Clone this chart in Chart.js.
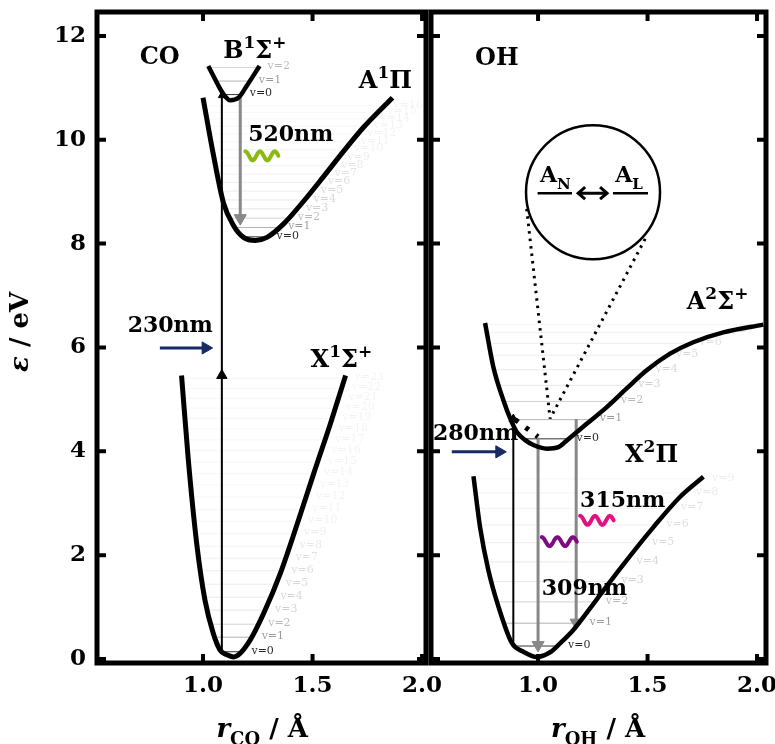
<!DOCTYPE html>
<html><head><meta charset="utf-8">
<script src="https://cdn.jsdelivr.net/npm/chart.js@4.4.1/dist/chart.umd.min.js"></script>
<style>
html,body{margin:0;padding:0;background:#fff;}
#wrap{position:relative;width:775px;height:744px;overflow:hidden;}
canvas{position:absolute;left:0;top:0;}
</style></head><body>
<div id="wrap"><canvas id="c1" width="775" height="744"></canvas><canvas id="c2" width="775" height="744"></canvas></div>
<script>
// ---------------- DATA ----------------
const yTicks = [0, 2, 4, 6, 8, 10, 12];
const xTicks = [1.0, 1.5, 2.0];

// CO potential curves (r in Å, energy in eV)
const coX_r = [0.902,0.933,0.971,1.009,1.047,1.078,1.109,1.139,1.170,1.216,1.277,1.353,1.430,1.506,1.583,1.651];
const coX_e = [5.46,3.83,2.23,1.13,0.49,0.17,0.08,0.04,0.11,0.37,0.88,1.65,2.60,3.58,4.55,5.46];
const coA_r = [1.000,1.047,1.093,1.139,1.185,1.239,1.292,1.368,1.460,1.552,1.644,1.735,1.865];
const coA_e = [10.81,9.72,8.79,8.35,8.12,8.06,8.12,8.38,8.82,9.30,9.79,10.25,10.81];
const coB_r = [1.024,1.063,1.093,1.124,1.162,1.200,1.258];
const coB_e = [11.42,11.10,10.88,10.76,10.81,11.04,11.42];
const coX_levels = [0.14,0.42,0.67,0.94,1.19,1.44,1.70,1.94,2.17,2.42,2.65,2.88,3.12,3.35,3.57,3.79,4.01,4.22,4.43,4.63,4.83,5.02,5.21,5.40];
const coA_levels = [8.13,8.31,8.49,8.67,8.84,9.01,9.18,9.34,9.50,9.65,9.81,9.96,10.11,10.26,10.40,10.53,10.65];
const coB_levels = [10.87,11.13,11.39];

// OH potential curves
const ohA_r = [0.758,0.796,0.842,0.880,0.903,0.940,0.979,1.040,1.093,1.131,1.222,1.314,1.405,1.496,1.603,1.709,1.846,2.029];
const ohA_e = [6.47,5.62,4.98,4.56,4.37,4.22,4.12,4.05,4.08,4.21,4.53,4.85,5.21,5.56,5.88,6.10,6.29,6.44];
const ohX_r = [0.705,0.735,0.773,0.819,0.880,0.933,0.994,1.055,1.100,1.161,1.270,1.382,1.527,1.648,1.755];
const ohX_e = [3.52,2.54,1.71,1.01,0.31,0.14,0.04,0.13,0.30,0.56,1.16,1.78,2.54,3.12,3.51];
const ohA_levels = [4.24,4.61,4.96,5.27,5.57,5.85,6.08,6.29,6.44];
const ohX_levels = [0.25,0.69,1.10,1.49,1.87,2.24,2.58,2.90,3.20,3.47];

// transitions (r, energies)
const coExc_r = 1.086, coExc_e = [0.10, 5.46, 10.85];
const coEm_r = 1.170, coEm_e = [10.82, 8.49];
const coPump_r = [0.803, 1.012], coPump_e = 5.99;
const ohExc_r = 0.887, ohExc_e = [0.24, 4.62];
const ohEm309_r = 1.0, ohEm309_e = [4.26, 0.27];
const ohEm315_r = 1.174, ohEm315_e = [4.62, 0.70];
const ohPump_r = [0.606, 0.823], ohPump_e = 3.99;
const ohRelax_r = [0.895, 1.0], ohRelax_e = [4.61, 4.28];
const ohZoomL_r = [0.948, 1.055], ohZoomL_e = [8.67, 4.63];
const ohZoomR_r = [1.489, 1.055], ohZoomR_e = [8.09, 4.63];
const ohInset_r = [0.998, 1.155, 1.342, 1.502], ohInset_e = 8.97;

// ---------------- HELPERS ----------------
const FONT = '"DejaVu Serif", "Liberation Serif", serif';
const pts = (r, e) => r.map((x, i) => ({x, y: e[i]}));

function wallsAt(r, e, E) {
  let im = 0; for (let i = 1; i < e.length; i++) if (e[i] < e[im]) im = i;
  let xl = r[0], xr = r[r.length - 1];
  for (let i = im; i > 0; i--) { if (e[i-1] >= E && e[i] <= E) { xl = r[i] + (E - e[i]) * (r[i-1] - r[i]) / (e[i-1] - e[i]); break; } }
  for (let i = im; i < r.length - 1; i++) { if (e[i+1] >= E && e[i] <= E) { xr = r[i] + (E - e[i]) * (r[i+1] - r[i]) / (e[i+1] - e[i]); break; } }
  return [xl, xr];
}
function lineAlpha(i){ return i===0?0.8: i===1?0.3: i===2?0.18: Math.max(0.04, 0.13-0.01*i); }
function labAlpha(i){ return i===0?0.85: i===1?0.4: i===2?0.28: Math.max(0.05, 0.24-0.018*i); }

function drawRich(ctx, x, y, parts, size, align) {
  let w = 0;
  const items = parts.map(p => {
    const k = p[1] || '';
    const s = (k === 'sup' || k === 'sub') ? Math.round(size * 0.7) : size;
    const font = (k.indexOf('it') >= 0 ? 'italic ' : '') + 'bold ' + s + 'px ' + FONT;
    ctx.font = font;
    const wd = ctx.measureText(p[0]).width;
    const dy = k === 'sup' ? -size * 0.42 : k === 'sub' ? size * 0.3 : 0;
    w += wd;
    return {t: p[0], font, wd, dy};
  });
  let cx = align === 'center' ? x - w / 2 : align === 'right' ? x - w : x;
  ctx.textAlign = 'left'; ctx.textBaseline = 'alphabetic';
  items.forEach(it => { ctx.font = it.font; ctx.fillText(it.t, cx, y + it.dy); cx += it.wd; });
}
function wiggle(ctx, x0, x1, yc, amp, color) {
  ctx.save(); ctx.strokeStyle = color; ctx.lineWidth = 4; ctx.lineCap = 'round'; ctx.lineJoin = 'round';
  ctx.beginPath();
  const n = 60;
  for (let i = 0; i <= n; i++) {
    const t = i / n, x = x0 + (x1 - x0) * t;
    const y = yc - amp * Math.sin(Math.PI * 0.5 + t * 2.25 * 2 * Math.PI);
    i ? ctx.lineTo(x, y) : ctx.moveTo(x, y);
  }
  ctx.stroke(); ctx.restore();
}

function levelDatasets(r, e, levels, w) {
  return levels.map((E, i) => {
    const [xl, xr] = wallsAt(r, e, E);
    return {data: [{x: xl, y: E}, {x: xr, y: E}], borderColor: 'rgba(0,0,0,' + lineAlpha(i) + ')',
      borderWidth: w || 1, pointRadius: 0, showLine: true, order: 20};
  });
}
function curveDs(r, e, w) {
  return {data: pts(r, e), borderColor: '#000', borderWidth: w, pointRadius: 0, showLine: true,
    cubicInterpolationMode: 'monotone', order: 1, borderCapStyle: 'butt'};
}
function arrowDs(data, color, w, radii, rot, extra) {
  return Object.assign({data, borderColor: color, backgroundColor: color, borderWidth: w, showLine: true,
    pointStyle: 'triangle', pointRadius: radii, pointRotation: rot, pointBackgroundColor: color,
    pointBorderColor: color, pointBorderWidth: 1, order: 5}, extra || {});
}

// ---------------- PANEL PLUGIN ----------------
function panelPlugin(cfg) {
  return {
    id: 'panel' + cfg.name,
    afterDatasetsDraw(chart) {
      const ctx = chart.ctx, a = chart.chartArea, xs = chart.scales.x, ys = chart.scales.y;
      const X = v => xs.getPixelForValue(v), Y = v => ys.getPixelForValue(v);
      ctx.save();
      ctx.save();
      ctx.beginPath(); ctx.rect(a.left, a.top, a.right - a.left, a.bottom - a.top); ctx.clip();
      ctx.font = '11px ' + FONT; ctx.textBaseline = 'middle'; ctx.textAlign = 'left';
      cfg.levelLabels.forEach(L => {
        L.levels.forEach((E, i) => {
          const [, xr] = wallsAt(L.r, L.e, E);
          ctx.fillStyle = 'rgba(0,0,0,' + labAlpha(i) + ')';
          ctx.fillText('v=' + i, X(xr) + L.dx, Y(E) - 1);
        });
      });
      ctx.restore();
      if (cfg.extra) cfg.extra(ctx, X, Y);
      ctx.fillStyle = '#000';
      cfg.texts.forEach(t => drawRich(ctx, X(t.x), Y(t.y), t.parts, t.size || 24, t.align || 'left'));
      cfg.wiggles.forEach(w => wiggle(ctx, X(w.x0), X(w.x1), Y(w.y), 4.5, w.color));
      ctx.strokeStyle = '#000'; ctx.lineWidth = 5; ctx.lineCap = 'butt';
      ctx.strokeRect(a.left, a.top, a.right - a.left, a.bottom - a.top);
      ctx.lineWidth = 4;
      xTicks.forEach(v => { const px = X(v); if (px > a.right - 2) return;
        ctx.beginPath(); ctx.moveTo(px, a.top); ctx.lineTo(px, a.top + 9); ctx.moveTo(px, a.bottom); ctx.lineTo(px, a.bottom - 9); ctx.stroke(); });
      yTicks.forEach(v => { const py = Y(v);
        ctx.beginPath(); ctx.moveTo(a.left, py); ctx.lineTo(a.left + 9, py); ctx.moveTo(a.right, py); ctx.lineTo(a.right - 9, py); ctx.stroke(); });
      ctx.fillStyle = '#000';
      drawRich(ctx, X(cfg.titleX), a.bottom + 74, cfg.xTitle, 26, 'center');
      if (cfg.yTitle) {
        ctx.save(); ctx.translate(28, Y(6.3)); ctx.rotate(-Math.PI / 2);
        drawRich(ctx, 0, 0, cfg.yTitle, 26, 'center'); ctx.restore();
      }
      ctx.restore();
    }
  };
}

function makeChart(id, cfg) {
  return new Chart(document.getElementById(id), {
    type: 'scatter',
    data: {datasets: cfg.datasets},
    options: {
      responsive: false, animation: false, devicePixelRatio: 1,
      layout: {padding: cfg.padding},
      plugins: {legend: {display: false}, tooltip: {enabled: false}},
      scales: {
        x: {type: 'linear', min: cfg.xMin, max: cfg.xMax,
          grid: {display: false, drawTicks: false}, border: {display: false},
          ticks: {stepSize: 0.5, includeBounds: false, color: '#000', padding: 9,
            font: {family: FONT, weight: 'bold', size: 23}, callback: v => Number(v).toFixed(1)},
          afterFit: s => { s.height = 744 - 663 - cfg.padding.bottom; s.paddingLeft = 0; s.paddingRight = 0; }},
        y: {type: 'linear', min: -0.077, max: 12.46, display: cfg.showY,
          grid: {display: false, drawTicks: false}, border: {display: false},
          ticks: {stepSize: 2, includeBounds: false, color: '#000', padding: 11,
            font: {family: FONT, weight: 'bold', size: 23}},
          afterFit: s => { s.width = cfg.showY ? 97 : 0; s.paddingTop = 0; s.paddingBottom = 0; }}
      }
    },
    plugins: [panelPlugin(cfg)]
  });
}

// ---------------- CO PANEL ----------------
const coDatasets = [].concat(
  levelDatasets(coX_r, coX_e, coX_levels),
  levelDatasets(coA_r, coA_e, coA_levels),
  levelDatasets(coB_r, coB_e, coB_levels),
  [
    arrowDs(coExc_e.map(e => ({x: coExc_r, y: e})), '#000', 2, [0, 6, 4], [0, 0, 0]),
    arrowDs(coEm_e.map(e => ({x: coEm_r, y: e})), '#888', 3, [0, 7], [0, 180]),
    arrowDs(coPump_r.map(r => ({x: r, y: coPump_e})), '#172a66', 3, [0, 7], [0, 90]),
    curveDs(coX_r, coX_e, 5), curveDs(coA_r, coA_e, 5), curveDs(coB_r, coB_e, 4.5)
  ]);
makeChart('c1', {
  name: 'CO', datasets: coDatasets, xMin: 0.516, xMax: 2.018, showY: true,
  padding: {left: 0, right: 775 - 426, top: 12, bottom: 0},
  levelLabels: [{r: coX_r, e: coX_e, levels: coX_levels, dx: 10}, {r: coA_r, e: coA_e, levels: coA_levels, dx: 9},
                {r: coB_r, e: coB_e, levels: coB_levels, dx: 9}],
  texts: [
    {x: 0.711, y: 11.46, parts: [['CO']]},
    {x: 1.092, y: 11.58, parts: [['B'], ['1', 'sup'], ['Σ'], ['+', 'sup']]},
    {x: 1.711, y: 11.0, parts: [['A'], ['1', 'sup'], ['Π']]},
    {x: 1.491, y: 5.62, parts: [['X'], ['1', 'sup'], ['Σ'], ['+', 'sup']]},
    {x: 1.206, y: 9.97, parts: [['520nm']], size: 22},
    {x: 0.656, y: 6.29, parts: [['230nm']], size: 22}
  ],
  wiggles: [{x0: 1.193, x1: 1.344, y: 9.69, color: '#8cb811'}],
  titleX: 1.27, xTitle: [['r', 'it'], ['CO', 'sub'], [' / Å']],
  yTitle: [['ε', 'it'], [' / eV']]
});

// ---------------- OH PANEL ----------------
const ohDatasets = [].concat(
  levelDatasets(ohA_r, ohA_e, ohA_levels),
  levelDatasets(ohX_r, ohX_e, ohX_levels),
  [
    arrowDs(ohExc_e.map(e => ({x: ohExc_r, y: e})), '#000', 2, [0, 5], [0, 0]),
    arrowDs(ohEm309_e.map(e => ({x: ohEm309_r, y: e})), '#888', 3, [0, 7], [0, 180]),
    arrowDs(ohEm315_e.map(e => ({x: ohEm315_r, y: e})), '#888', 3, [0, 7], [0, 180]),
    arrowDs(ohPump_r.map(r => ({x: r, y: ohPump_e})), '#172a66', 3, [0, 7], [0, 90]),
    {data: pts(ohRelax_r, ohRelax_e), borderColor: '#000', borderWidth: 5, borderDash: [4, 9], pointRadius: 0, showLine: true, order: 4},
    {data: pts(ohZoomL_r, ohZoomL_e), borderColor: '#000', borderWidth: 3, borderDash: [2.5, 5], pointRadius: 0, showLine: true, order: 4},
    {data: pts(ohZoomR_r, ohZoomR_e), borderColor: '#000', borderWidth: 3, borderDash: [2.5, 5], pointRadius: 0, showLine: true, order: 4},
    {data: [{x: ohInset_r[0], y: ohInset_e}, {x: ohInset_r[1], y: ohInset_e}], borderColor: '#000', borderWidth: 2.5, pointRadius: 0, showLine: true, order: 3},
    {data: [{x: ohInset_r[2], y: ohInset_e}, {x: ohInset_r[3], y: ohInset_e}], borderColor: '#000', borderWidth: 2.5, pointRadius: 0, showLine: true, order: 3},
    curveDs(ohA_r, ohA_e, 4.5), curveDs(ohX_r, ohX_e, 4.5)
  ]);
makeChart('c2', {
  name: 'OH', datasets: ohDatasets, xMin: 0.511, xMax: 2.041, showY: false,
  padding: {left: 431, right: 775 - 766, top: 12, bottom: 0},
  levelLabels: [{r: ohA_r, e: ohA_e, levels: ohA_levels, dx: 8}, {r: ohX_r, e: ohX_e, levels: ohX_levels, dx: 11}],
  texts: [
    {x: 0.712, y: 11.44, parts: [['OH']]},
    {x: 1.679, y: 6.74, parts: [['A'], ['2', 'sup'], ['Σ'], ['+', 'sup']]},
    {x: 1.397, y: 3.79, parts: [['X'], ['2', 'sup'], ['Π']]},
    {x: 0.52, y: 4.21, parts: [['280nm']], size: 22},
    {x: 1.192, y: 2.93, parts: [['315nm']], size: 22},
    {x: 1.017, y: 1.23, parts: [['309nm']], size: 22},
    {x: 1.009, y: 9.18, parts: [['A'], ['N', 'sub']], size: 22},
    {x: 1.352, y: 9.18, parts: [['A'], ['L', 'sub']], size: 22}
  ],
  wiggles: [{x0: 1.192, x1: 1.345, y: 2.67, color: '#e3117f'}, {x0: 1.017, x1: 1.177, y: 2.26, color: '#7d0c80'}],
  titleX: 1.274, xTitle: [['r', 'it'], ['OH', 'sub'], [' / Å']],
  extra: (ctx, X, Y) => {
    const cx = X(1.251), cy = Y(8.99), rad = X(1.251 + 0.306) - cx;
    ctx.save(); ctx.strokeStyle = '#000'; ctx.lineWidth = 2.5;
    ctx.beginPath(); ctx.arc(cx, cy, rad, 0, 2 * Math.PI); ctx.stroke();
    const x0 = X(1.183), x1 = X(1.315), y = Y(ohInset_e);
    ctx.beginPath(); ctx.moveTo(x0, y); ctx.lineTo(x1, y);
    ctx.moveTo(x0 + 7, y - 6); ctx.lineTo(x0, y); ctx.lineTo(x0 + 7, y + 6);
    ctx.moveTo(x1 - 7, y - 6); ctx.lineTo(x1, y); ctx.lineTo(x1 - 7, y + 6);
    ctx.lineWidth = 3; ctx.stroke();
    ctx.restore();
  }
});
</script>
</body></html>
